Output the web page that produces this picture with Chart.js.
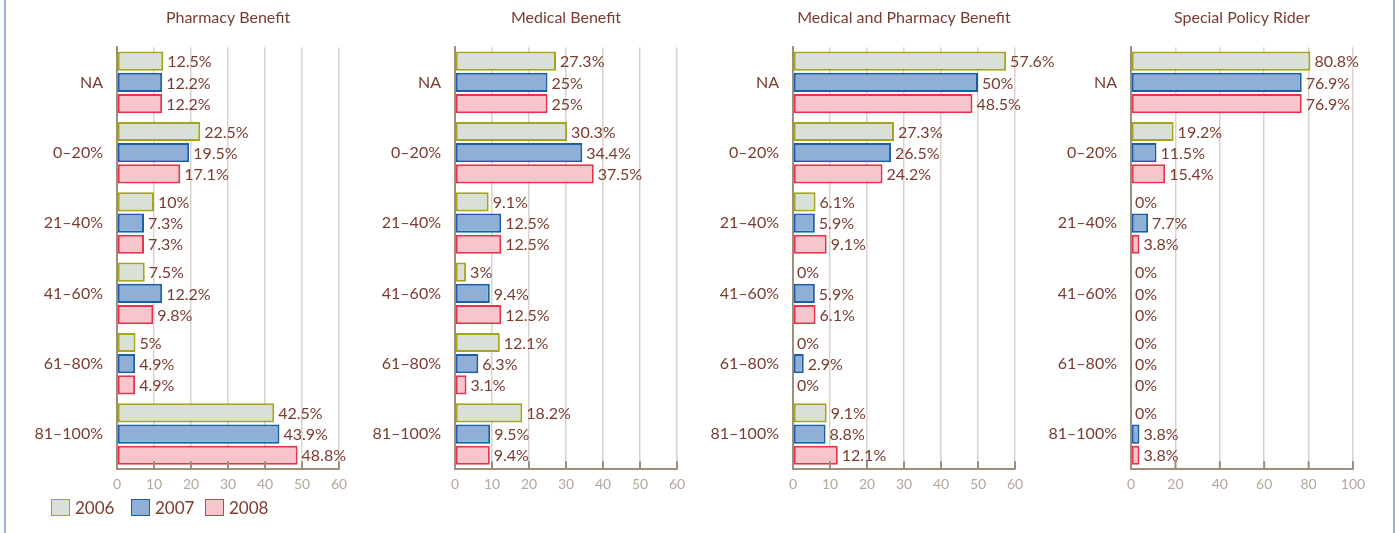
<!DOCTYPE html>
<html>
<head>
<meta charset="utf-8">
<script src="https://cdn.jsdelivr.net/npm/chart.js@4/dist/chart.umd.min.js"></script>
<style>
  html, body { margin:0; padding:0; background:#fff; width:1395px; height:533px; overflow:hidden; }
  #frame { position:absolute; left:4px; top:-10px; width:1387px; height:560px; border-left:2px solid #97b4dc; border-right:2px solid #97b4dc; }
  .panel { position:absolute; top:0; }
  #legend { position:absolute; left:51px; top:499px; font-family:Lato, sans-serif; font-size:17px; color:#7b3b2f; }
  .item { position:absolute; top:0; height:18px; line-height:18px; white-space:nowrap; }
  .box { display:inline-block; width:17px; height:15px; vertical-align:top; margin-right:5px; }
</style>
</head>
<body>
<div id="frame"></div>
<div class="panel" id="p0"><canvas id="c0" width="357" height="500"></canvas></div>
<div class="panel" id="p1"><canvas id="c1" width="357" height="500"></canvas></div>
<div class="panel" id="p2"><canvas id="c2" width="357" height="500"></canvas></div>
<div class="panel" id="p3"><canvas id="c3" width="357" height="500"></canvas></div>
<div id="legend"></div>
<script>
// ---- data ----
const categories = ['NA', '0–20%', '21–40%', '41–60%', '61–80%', '81–100%'];
const years = ['2006', '2007', '2008'];
const titles = ['Pharmacy Benefit', 'Medical Benefit', 'Medical and Pharmacy Benefit', 'Special Policy Rider'];

const pharmacy2006 = [12.5, 22.5, 10, 7.5, 5, 42.5];
const pharmacy2007 = [12.2, 19.5, 7.3, 12.2, 4.9, 43.9];
const pharmacy2008 = [12.2, 17.1, 7.3, 9.8, 4.9, 48.8];

const medical2006 = [27.3, 30.3, 9.1, 3, 12.1, 18.2];
const medical2007 = [25, 34.4, 12.5, 9.4, 6.3, 9.5];
const medical2008 = [25, 37.5, 12.5, 12.5, 3.1, 9.4];

const medPharm2006 = [57.6, 27.3, 6.1, 0, 0, 9.1];
const medPharm2007 = [50, 26.5, 5.9, 5.9, 2.9, 8.8];
const medPharm2008 = [48.5, 24.2, 9.1, 6.1, 0, 12.1];

const rider2006 = [80.8, 19.2, 0, 0, 0, 0];
const rider2007 = [76.9, 11.5, 7.7, 0, 0, 3.8];
const rider2008 = [76.9, 15.4, 3.8, 0, 0, 3.8];

const axisMax = [60, 60, 60, 100];
const axisStep = [10, 10, 10, 20];
// ---- styling ----
const fills = ['#d9e0d8', '#8fafd7', '#f8c5cd'];
const borders = ['#a3a51c', '#1a5ea8', '#e8314d'];
const brown = '#7b3b2f';
const tickGrey = '#b3a899';
const axisCol = '#9d8f7c';
const gridCol = '#dbd3cb';
const FONT = 'Lato, sans-serif';

const panelData = [
  [pharmacy2006, pharmacy2007, pharmacy2008],
  [medical2006, medical2007, medical2008],
  [medPharm2006, medPharm2007, medPharm2008],
  [rider2006, rider2007, rider2008]
];
const plotLeft = [117, 455, 793, 1131];
const yAxisW = 95;

const labelPlugin = {
  id: 'valLabels',
  afterDatasetsDraw(chart) {
    const ctx = chart.ctx;
    ctx.save();
    ctx.font = '16px ' + FONT;
    ctx.fillStyle = brown;
    ctx.textBaseline = 'middle';
    ctx.textAlign = 'left';
    chart.data.datasets.forEach((ds, i) => {
      const meta = chart.getDatasetMeta(i);
      meta.data.forEach((el, j) => {
        ctx.fillText(ds.data[j] + '%', el.x + 4, el.y + 1);
      });
    });
    ctx.restore();
  }
};
const tickMarkPlugin = {
  id: 'innerTicks',
  afterDraw(chart) {
    const ctx = chart.ctx;
    const xs = chart.scales.x;
    const bottom = chart.chartArea.bottom;
    ctx.save();
    ctx.strokeStyle = axisCol;
    ctx.lineWidth = 2;
    xs.ticks.forEach(t => {
      const px = xs.getPixelForValue(t.value);
      ctx.beginPath();
      ctx.moveTo(px, bottom - 8);
      ctx.lineTo(px, bottom);
      ctx.stroke();
    });
    ctx.restore();
  }
};

panelData.forEach((series, p) => {
  document.getElementById('p' + p).style.left = (plotLeft[p] - yAxisW) + 'px';
  new Chart(document.getElementById('c' + p), {
    type: 'bar',
    data: {
      labels: categories,
      datasets: series.map((vals, i) => ({
        label: years[i],
        data: vals,
        backgroundColor: fills[i],
        borderColor: borders[i],
        borderWidth: 2,
        borderSkipped: false,
        categoryPercentage: 0.905,
        barPercentage: 0.905
      }))
    },
    options: {
      indexAxis: 'y',
      responsive: false,
      animation: false,
      devicePixelRatio: 1,
      layout: { padding: { left: 0, right: 40, top: 0, bottom: 0 } },
      plugins: {
        legend: { display: false },
        tooltip: { enabled: false },
        title: {
          display: true, text: titles[p], fullSize: false,
          color: brown, font: { family: FONT, size: 16, weight: 'normal' },
          padding: { top: 8, bottom: 20 }
        }
      },
      scales: {
        x: {
          min: 0, max: axisMax[p],
          ticks: { stepSize: axisStep[p], color: tickGrey, font: { family: FONT, size: 14 }, padding: 7 },
          grid: { color: gridCol, lineWidth: 1.5, drawTicks: false },
          border: { display: true, color: axisCol, width: 2 }
        },
        y: {
          afterFit(scale) { scale.width = yAxisW; },
          ticks: { color: brown, font: { family: FONT, size: 16 }, padding: 14 },
          grid: { display: false, drawTicks: false },
          border: { display: true, color: axisCol, width: 2 }
        }
      }
    },
    plugins: [labelPlugin, tickMarkPlugin]
  });
});

// legend (HTML)
const legend = document.getElementById('legend');
const legendX = [0, 80, 154];
years.forEach((y, i) => {
  const d = document.createElement('div');
  d.className = 'item';
  d.style.left = legendX[i] + 'px';
  d.innerHTML = '<span class="box" style="background:' + fills[i] + ';border:1.5px solid ' + borders[i] + '"></span>' + y;
  legend.appendChild(d);
});
</script>
</body>
</html>
